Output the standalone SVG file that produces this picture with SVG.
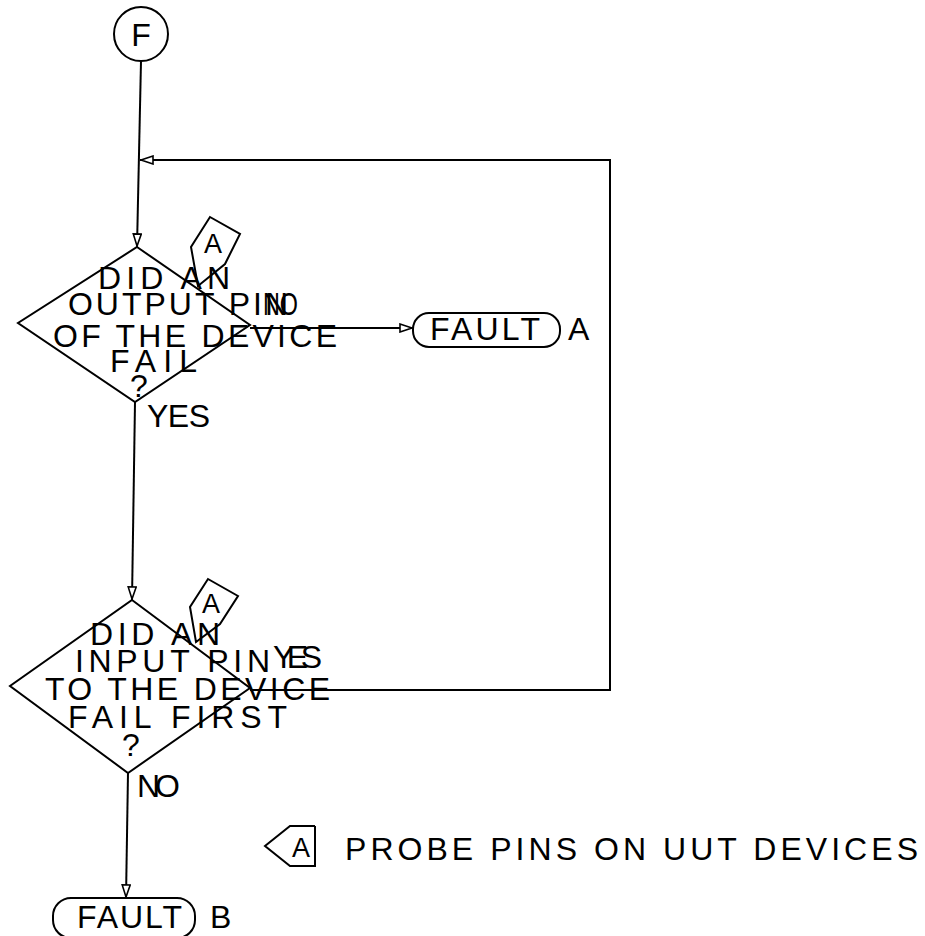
<svg xmlns="http://www.w3.org/2000/svg" width="925" height="936" viewBox="0 0 925 936">
<style>
.s{fill:none;stroke:#000;stroke-width:2}
.t{font-family:"Liberation Sans",Arial,sans-serif;font-size:32px;fill:#000}
.ta{font-family:"Liberation Sans",Arial,sans-serif;font-size:27px;fill:#000;text-anchor:middle}
</style>
<defs>
<marker id="arr" viewBox="0 0 14 10" refX="14" refY="5" markerWidth="14" markerHeight="10" markerUnits="userSpaceOnUse" orient="auto">
<path d="M1,1 L13,5 L1,9 Z" fill="#fff" stroke="#000" stroke-width="1.6"/>
</marker>
</defs>
<rect width="925" height="936" fill="#fff"/>
<g id="connectors">
<line class="s" x1="141" y1="61" x2="137" y2="247" marker-end="url(#arr)"/>
<polyline class="s" points="250,690 610,690 610,160 140,160" marker-end="url(#arr)"/>
<line class="s" x1="250" y1="328" x2="413" y2="328" marker-end="url(#arr)"/>
<line class="s" x1="135" y1="402" x2="132" y2="600" marker-end="url(#arr)"/>
<line class="s" x1="128" y1="773" x2="126" y2="898" marker-end="url(#arr)"/>
</g>
<g id="startF">
<circle class="s" cx="141" cy="34" r="27"/>
<text class="t" x="141" y="46" text-anchor="middle">F</text>
</g>
<g id="decision1">
<polygon class="s" points="137,247 250,325 135,402 18,323"/>
<text class="t" x="98" y="289" textLength="132" lengthAdjust="spacing">DID AN</text>
<text class="t" x="68" y="315" textLength="220" lengthAdjust="spacing">OUTPUT PIN</text>
<text class="t" x="53" y="347" textLength="284" lengthAdjust="spacing">OF THE DEVICE</text>
<text class="t" x="110" y="372" textLength="87" lengthAdjust="spacing">FAIL</text>
<text class="t" x="130" y="397">?</text>
<polygon class="s" points="210,217 240,234 225,264 198,286 191,247"/>
<text class="ta" x="213" y="253">A</text>
<text class="t" x="263" y="315" textLength="35" lengthAdjust="spacingAndGlyphs">NO</text>
<text class="t" x="147" y="427" textLength="63" lengthAdjust="spacing">YES</text>
</g>
<g id="faultA">
<rect class="s" x="413" y="313" width="147" height="34" rx="16"/>
<text class="t" x="430" y="340" textLength="110" lengthAdjust="spacing">FAULT</text>
<text class="t" x="568" y="340">A</text>
</g>
<g id="decision2">
<polygon class="s" points="132,600 250,688 128,773 10,686"/>
<text class="t" x="90" y="645" textLength="130" lengthAdjust="spacing">DID AN</text>
<text class="t" x="75" y="672" textLength="195" lengthAdjust="spacing">INPUT PIN</text>
<text class="t" x="45" y="700" textLength="285" lengthAdjust="spacing">TO THE DEVICE</text>
<text class="t" x="68" y="728" textLength="219" lengthAdjust="spacing">FAIL FIRST</text>
<text class="t" x="122" y="756">?</text>
<polygon class="s" points="208,579 238,596 220,624 196,642 190,607"/>
<text class="ta" x="211" y="613">A</text>
<text class="t" x="273" y="668" textLength="49" lengthAdjust="spacing">YES</text>
<text class="t" x="137" y="797" textLength="43" lengthAdjust="spacing">NO</text>
</g>
<g id="faultB">
<rect class="s" x="53" y="898" width="142" height="40" rx="18"/>
<text class="t" x="77" y="928" textLength="105" lengthAdjust="spacing">FAULT</text>
<text class="t" x="210" y="928">B</text>
</g>
<g id="legend">
<polyline class="s" points="315,826 290,826 265,846 290,866 315,866 315,826"/>
<text class="ta" x="301" y="857">A</text>
<text class="t" x="345" y="860" textLength="573" lengthAdjust="spacing">PROBE PINS ON UUT DEVICES</text>
</g>
</svg>
